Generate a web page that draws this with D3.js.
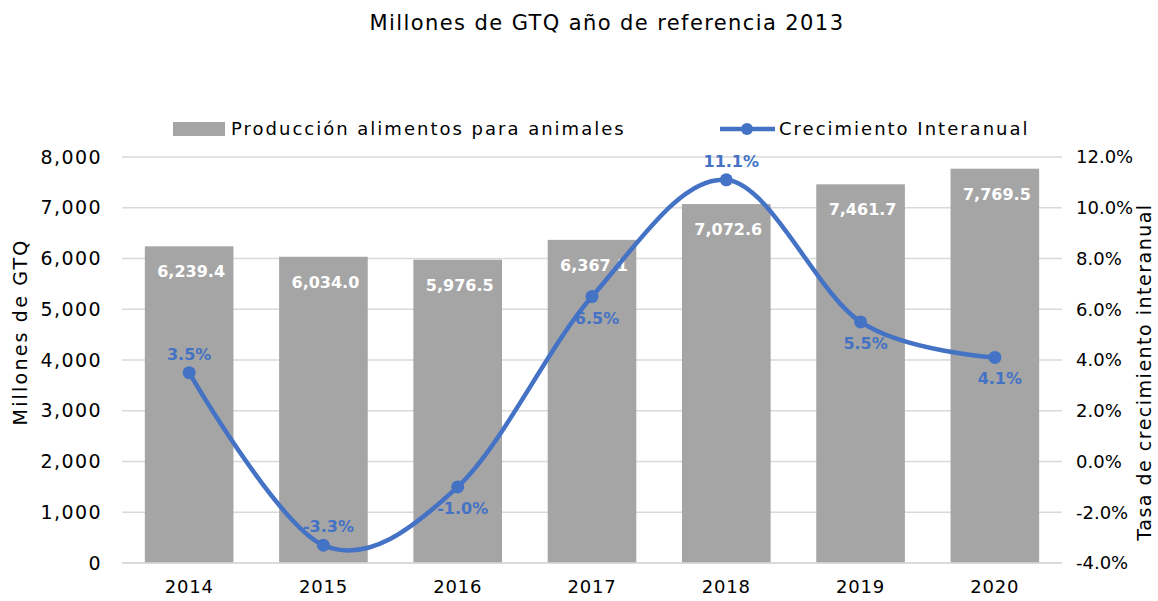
<!DOCTYPE html>
<html>
<head>
<meta charset="utf-8">
<script src="https://cdn.jsdelivr.net/npm/d3@7"></script>
<style>
  body { margin: 0; background: #fff; }
  text { font-family: "DejaVu Sans", sans-serif; }
</style>
</head>
<body>
<svg width="1158" height="601"></svg>
<script>
const years = ['2014', '2015', '2016', '2017', '2018', '2019', '2020'];
const production = [6239.4, 6034.0, 5976.5, 6367.1, 7072.6, 7461.7, 7769.5];
const growth = [3.5, -3.3, -1.0, 6.5, 11.1, 5.5, 4.1];
const leftTicks = [0, 1000, 2000, 3000, 4000, 5000, 6000, 7000, 8000];
const rightTicks = [-4, -2, 0, 2, 4, 6, 8, 10, 12];
// where each growth label sits relative to its point
const growthLabelPos = ['above', 'above', 'below', 'below', 'above', 'below', 'below'];

function drawChart() {
  const left = 122;
  const right = 1062;
  const top = 157;
  const bottom = 563;
  const barColor = '#a5a5a5';
  const lineColor = '#4472c4';

  const svg = d3.select('svg');

  const xScale = d3.scaleBand()
      .domain(years)
      .range([left, right])
      .paddingInner(0.34)
      .paddingOuter(0.17);
  const yScale = d3.scaleLinear()
      .domain([0, 8000])
      .range([bottom, top]);
  const y2Scale = d3.scaleLinear()
      .domain([-4, 12])
      .range([bottom, top]);

  svg.append('text')
      .attr('x', 607)
      .attr('y', 30)
      .attr('text-anchor', 'middle')
      .style('font-size', '21px')
      .style('letter-spacing', '1.4px')
      .text('Millones de GTQ año de referencia 2013');

  // gridlines
  svg.append('g')
      .selectAll('line')
      .data(leftTicks)
      .join('line')
      .attr('x1', left)
      .attr('x2', right)
      .attr('y1', d => yScale(d))
      .attr('y2', d => yScale(d))
      .attr('stroke', '#d9d9d9')
      .attr('stroke-width', 1.5);

  const yAxis = d3.axisLeft(yScale)
      .tickValues(leftTicks)
      .tickFormat(d3.format(','))
      .tickSize(0)
      .tickPadding(20);
  svg.append('g')
      .attr('transform', `translate(${left}, 0)`)
      .call(yAxis)
      .call(g => g.select('.domain').remove())
      .selectAll('text')
      .style('font-size', '19px')
      .style('letter-spacing', '1.4px')
      .attr('fill', '#000');

  const y2Axis = d3.axisRight(y2Scale)
      .tickValues(rightTicks)
      .tickFormat(d => d.toFixed(1) + '%')
      .tickSize(0)
      .tickPadding(14);
  svg.append('g')
      .attr('transform', `translate(${right}, 0)`)
      .call(y2Axis)
      .call(g => g.select('.domain').remove())
      .selectAll('text')
      .style('font-size', '18px')
      .attr('fill', '#000');

  const xAxis = d3.axisBottom(xScale)
      .tickSize(0)
      .tickPadding(17);
  svg.append('g')
      .attr('transform', `translate(0, ${bottom})`)
      .call(xAxis)
      .call(g => g.select('.domain').remove())
      .selectAll('text')
      .style('font-size', '18px')
      .style('letter-spacing', '0.8px')
      .attr('fill', '#000');

  svg.append('text')
      .attr('transform', `translate(27, 332) rotate(-90)`)
      .attr('text-anchor', 'middle')
      .style('font-size', '19px')
      .style('letter-spacing', '2.2px')
      .text('Millones de GTQ');

  svg.append('text')
      .attr('transform', `translate(1151, 372) rotate(-90)`)
      .attr('text-anchor', 'middle')
      .style('font-size', '19px')
      .style('letter-spacing', '1.5px')
      .text('Tasa de crecimiento interanual');

  // bars
  svg.append('g')
      .selectAll('rect')
      .data(production)
      .join('rect')
      .attr('x', (d, i) => xScale(years[i]))
      .attr('y', d => yScale(d))
      .attr('width', xScale.bandwidth())
      .attr('height', d => yScale(0) - yScale(d))
      .attr('fill', barColor);

  // baseline
  svg.append('line')
      .attr('x1', left)
      .attr('x2', right)
      .attr('y1', bottom)
      .attr('y2', bottom)
      .attr('stroke', '#d9d9d9')
      .attr('stroke-width', 1.5);

  svg.append('g')
      .selectAll('text')
      .data(production)
      .join('text')
      .attr('x', (d, i) => xScale(years[i]) + xScale.bandwidth() / 2 + 2)
      .attr('y', d => yScale(d) + 31)
      .attr('text-anchor', 'middle')
      .attr('fill', '#fff')
      .style('font-size', '16px')
      .style('font-weight', 'bold')
      .text(d3.format(',.1f'));

  // growth line
  const cx = (d, i) => xScale(years[i]) + xScale.bandwidth() / 2;
  const line = d3.line()
      .x(cx)
      .y(d => y2Scale(d))
      .curve(d3.curveCardinal.tension(0));
  svg.append('path')
      .attr('d', line(growth))
      .attr('fill', 'none')
      .attr('stroke', lineColor)
      .attr('stroke-width', 4.5);

  svg.append('g')
      .selectAll('circle')
      .data(growth)
      .join('circle')
      .attr('cx', cx)
      .attr('cy', d => y2Scale(d))
      .attr('r', 6.5)
      .attr('fill', lineColor);

  svg.append('g')
      .selectAll('text')
      .data(growth)
      .join('text')
      .attr('x', (d, i) => cx(d, i) + (growthLabelPos[i] === 'above' && i === 0 ? 0 : 5))
      .attr('y', (d, i) => y2Scale(d) + (growthLabelPos[i] === 'above' ? -13 : 27))
      .attr('text-anchor', 'middle')
      .attr('fill', lineColor)
      .style('font-size', '16px')
      .style('font-weight', 'bold')
      .text(d => d.toFixed(1) + '%');

  // legend
  const legend = svg.append('g');
  legend.append('rect')
      .attr('x', 173)
      .attr('y', 122)
      .attr('width', 52)
      .attr('height', 14)
      .attr('fill', barColor);
  legend.append('text')
      .attr('x', 231)
      .attr('y', 135)
      .style('font-size', '18px')
      .style('letter-spacing', '2px')
      .text('Producción alimentos para animales');
  legend.append('line')
      .attr('x1', 720)
      .attr('x2', 775)
      .attr('y1', 129)
      .attr('y2', 129)
      .attr('stroke', lineColor)
      .attr('stroke-width', 4.5);
  legend.append('circle')
      .attr('cx', 747)
      .attr('cy', 129)
      .attr('r', 6)
      .attr('fill', lineColor);
  legend.append('text')
      .attr('x', 779)
      .attr('y', 135)
      .style('font-size', '18px')
      .style('letter-spacing', '2px')
      .text('Crecimiento Interanual');
}

drawChart();
</script>
</body>
</html>
